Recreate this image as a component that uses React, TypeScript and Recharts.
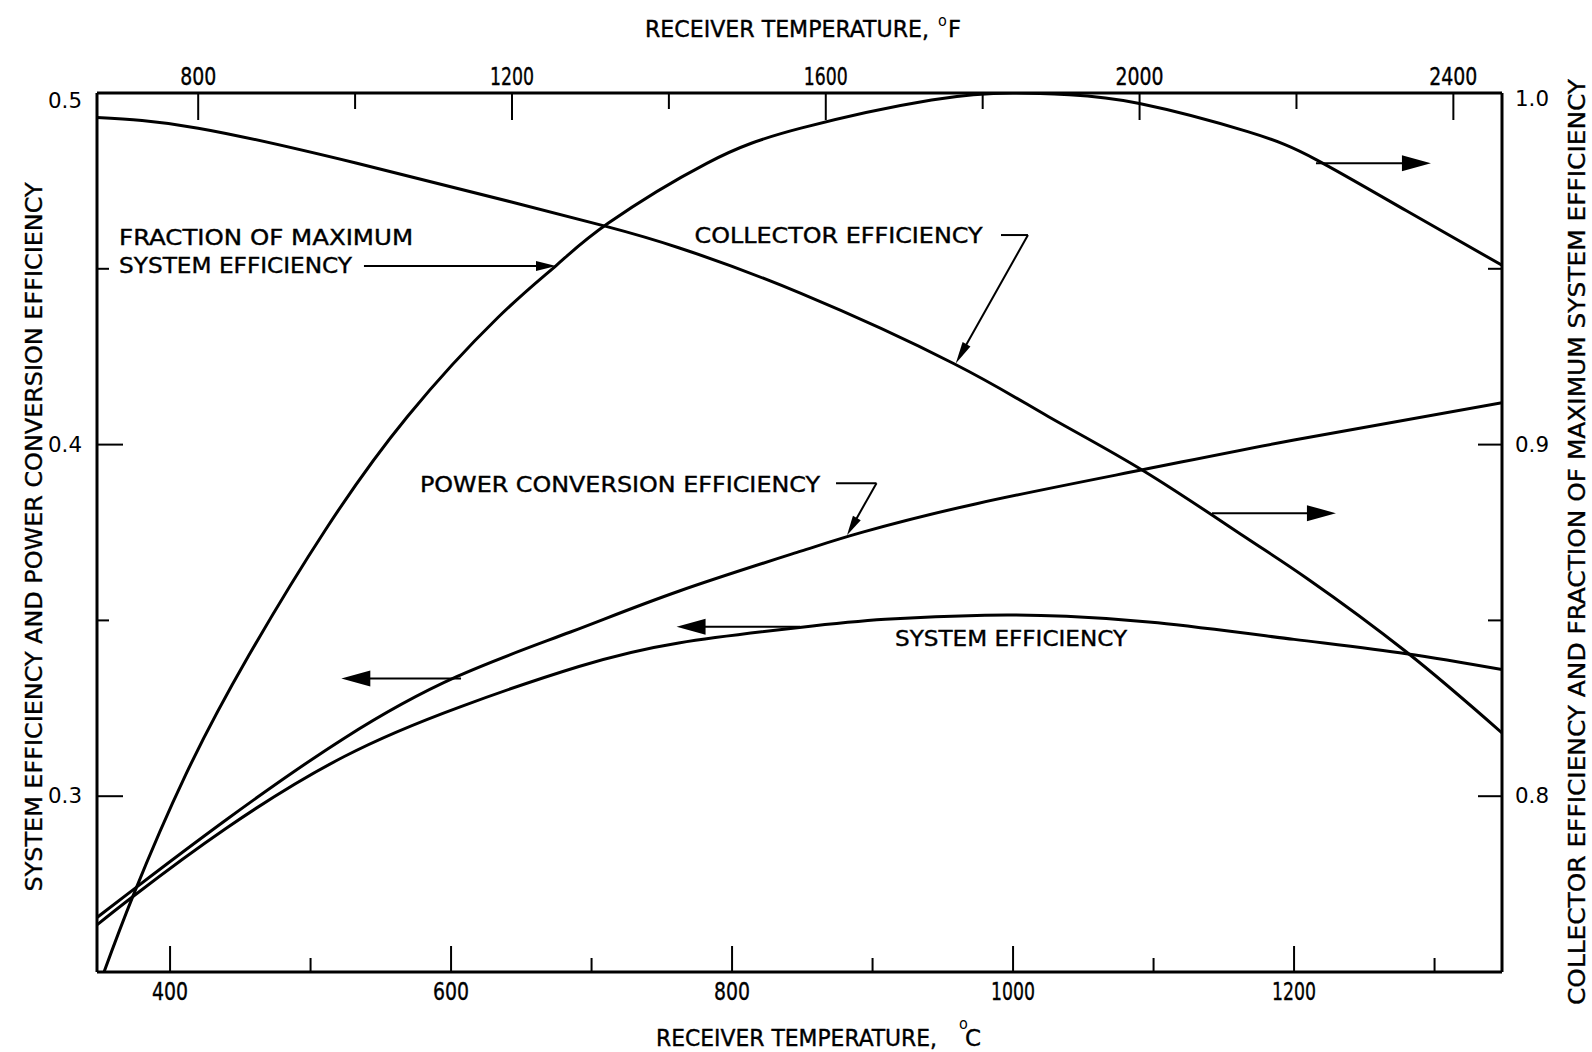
import React from 'react';
import { LineChart, Line, XAxis, YAxis } from 'recharts';

// Receiver temperature (°C) against efficiency, read as fractions.
const collectorEfficiency = [
  { t: 348, v: 0.993 }, { t: 420, v: 0.99 }, { t: 533, v: 0.98 }, { t: 643, v: 0.969 },
  { t: 711, v: 0.962 }, { t: 762, v: 0.956 }, { t: 849, v: 0.943 }, { t: 958, v: 0.923 },
  { t: 1025, v: 0.908 }, { t: 1093, v: 0.8925 }, { t: 1164, v: 0.874 }, { t: 1209, v: 0.862 },
  { t: 1280, v: 0.841 }, { t: 1348, v: 0.818 },
];

const fractionOfMaxSystem = [
  { t: 353, v: 0.75 }, { t: 374, v: 0.772 }, { t: 411, v: 0.806 }, { t: 456, v: 0.84 },
  { t: 511, v: 0.876 }, { t: 569, v: 0.908 }, { t: 633, v: 0.936 }, { t: 675, v: 0.951 },
  { t: 712, v: 0.963 }, { t: 782, v: 0.98 }, { t: 849, v: 0.99 }, { t: 942, v: 0.998 },
  { t: 1000, v: 1.0 }, { t: 1040, v: 0.9995 }, { t: 1090, v: 0.997 }, { t: 1167, v: 0.989 },
  { t: 1216, v: 0.981 }, { t: 1280, v: 0.9665 }, { t: 1348, v: 0.951 },
];

const powerConversionEfficiency = [
  { t: 348, v: 0.2655 }, { t: 375, v: 0.2738 }, { t: 440, v: 0.2933 }, { t: 524, v: 0.3165 },
  { t: 604, v: 0.334 }, { t: 685, v: 0.3467 }, { t: 762, v: 0.3583 }, { t: 849, v: 0.3697 },
  { t: 893, v: 0.3751 }, { t: 974, v: 0.3832 }, { t: 1093, v: 0.3929 }, { t: 1200, v: 0.4013 },
  { t: 1348, v: 0.4119 },
];

const systemEfficiency = [
  { t: 348, v: 0.2634 }, { t: 375, v: 0.2719 }, { t: 440, v: 0.2909 }, { t: 524, v: 0.3113 },
  { t: 607, v: 0.3255 }, { t: 691, v: 0.3369 }, { t: 762, v: 0.3436 }, { t: 848, v: 0.348 },
  { t: 909, v: 0.3503 }, { t: 980, v: 0.3515 }, { t: 1038, v: 0.3512 }, { t: 1103, v: 0.3493 },
  { t: 1200, v: 0.3446 }, { t: 1280, v: 0.3405 }, { t: 1348, v: 0.336 },
];

const celsiusTicks = [400, 500, 600, 700, 800, 900, 1000, 1100, 1200, 1300];
const celsiusLabels = [400, 600, 800, 1000, 1200];
const fahrenheitTicks = [800, 1000, 1200, 1400, 1600, 1800, 2000, 2200, 2400];
const fahrenheitLabels = [800, 1200, 1600, 2000, 2400];
const leftTicks = [0.3, 0.35, 0.4, 0.45, 0.5];
const leftLabels = [0.3, 0.4, 0.5];
const rightTicks = [0.8, 0.85, 0.9, 0.95, 1.0];
const rightLabels = [0.8, 0.9, 1.0];

// Layout
const WIDTH = 1592;
const HEIGHT = 1052;
const PLOT = { left: 97, right: 1502, top: 93, bottom: 972 };
const C_DOMAIN: [number, number] = [348, 1348];
const F_DOMAIN: [number, number] = [671, 2462];
const LEFT_DOMAIN: [number, number] = [0.25, 0.5];
const RIGHT_DOMAIN: [number, number] = [0.75, 1.0];

const INK = '#000';
const FONT = '"DejaVu Sans Condensed", "DejaVu Sans", sans-serif';
const NUM_FONT = '"DejaVu Sans", sans-serif';
const TEXT_WEIGHT = { stroke: INK, strokeWidth: 0.35 };

const toX = (t: number) =>
  PLOT.left + ((t - C_DOMAIN[0]) / (C_DOMAIN[1] - C_DOMAIN[0])) * (PLOT.right - PLOT.left);
const toY = (v: number) =>
  PLOT.bottom - ((v - LEFT_DOMAIN[0]) / (LEFT_DOMAIN[1] - LEFT_DOMAIN[0])) * (PLOT.bottom - PLOT.top);
const toXF = (f: number) =>
  PLOT.left + ((f - F_DOMAIN[0]) / (F_DOMAIN[1] - F_DOMAIN[0])) * (PLOT.right - PLOT.left);

const digitWidth = (s: string) => s.split('').reduce((w, ch) => w + (ch === '1' ? 8 : 12), 0);

const BottomTick = (props: any) => {
  const { x, y, payload } = props;
  const major = celsiusLabels.includes(payload.value);
  const label = String(payload.value);
  return (
    <g>
      <line x1={x} x2={x} y1={y} y2={y - (major ? 26 : 14)} stroke={INK} strokeWidth={2} />
      {major && (
        <text x={x} y={y + 28} textAnchor="middle" fontFamily={FONT} fontSize={24} fill={INK} {...TEXT_WEIGHT}
          textLength={digitWidth(label)} lengthAdjust="spacingAndGlyphs">{label}</text>
      )}
    </g>
  );
};

const LeftTick = (props: any) => {
  const { x, y, payload } = props;
  const major = leftLabels.includes(payload.value);
  const atTop = payload.value === LEFT_DOMAIN[1];
  return (
    <g>
      {!atTop && <line x1={x} x2={x + (major ? 26 : 12)} y1={y} y2={y} stroke={INK} strokeWidth={2} />}
      {major && (
        <text x={x - 15} y={y + (atTop ? 8 : 0)} textAnchor="end" dominantBaseline="central"
          fontFamily={NUM_FONT} fontSize={21} fill={INK} textLength={34}
          lengthAdjust="spacingAndGlyphs">{payload.value.toFixed(1)}</text>
      )}
    </g>
  );
};

const RightTick = (props: any) => {
  const { x, y, payload } = props;
  const major = rightLabels.includes(payload.value);
  const atTop = payload.value === RIGHT_DOMAIN[1];
  return (
    <g>
      {!atTop && <line x1={x} x2={x - (major ? 24 : 14)} y1={y} y2={y} stroke={INK} strokeWidth={2} />}
      {major && (
        <text x={x + 13} y={y + (atTop ? 6 : 0)} textAnchor="start" dominantBaseline="central"
          fontFamily={NUM_FONT} fontSize={21} fill={INK} textLength={34}
          lengthAdjust="spacingAndGlyphs">{payload.value.toFixed(1)}</text>
      )}
    </g>
  );
};

type Pt = [number, number];

function Arrow({ from, to, head = 28, half = 7.5, width = 2 }: { from: Pt; to: Pt; head?: number; half?: number; width?: number }) {
  const [x1, y1] = from;
  const [x2, y2] = to;
  const len = Math.hypot(x2 - x1, y2 - y1);
  const ux = (x2 - x1) / len;
  const uy = (y2 - y1) / len;
  const bx = x2 - ux * head;
  const by = y2 - uy * head;
  const px = -uy * half;
  const py = ux * half;
  return (
    <g>
      <line x1={x1} y1={y1} x2={bx + ux * 2} y2={by + uy * 2} stroke={INK} strokeWidth={width} />
      <polygon points={`${x2},${y2} ${bx + px},${by + py} ${bx - px},${by - py}`} fill={INK} />
    </g>
  );
}

function Label({ x, y, text, len, size = 22 }: { x: number; y: number; text: string; len: number; size?: number }) {
  // y is the vertical centre of the capitals
  return (
    <text x={x} y={y + size * 0.36} fontFamily={FONT} fontSize={size} fill={INK} {...TEXT_WEIGHT}
      textLength={len} lengthAdjust="spacingAndGlyphs">{text}</text>
  );
}

const P = (t: number, v: number): Pt => [toX(t), toY(v)];

// Secondary temperature scale in °F along the top edge of the frame.
function FahrenheitScale() {
  return (
    <g>
      {fahrenheitTicks.map((f) => {
        const x = toXF(f);
        const major = fahrenheitLabels.includes(f);
        const label = String(f);
        return (
          <g key={f}>
            <line x1={x} x2={x} y1={PLOT.top} y2={PLOT.top + (major ? 27 : 16)} stroke={INK} strokeWidth={2} />
            {major && (
              <text x={x} y={PLOT.top - 8} textAnchor="middle" fontFamily={FONT} fontSize={24} fill={INK}
                {...TEXT_WEIGHT} textLength={digitWidth(label)} lengthAdjust="spacingAndGlyphs">{label}</text>
            )}
          </g>
        );
      })}
    </g>
  );
}

function Annotations() {
  const fracA = P(538, 0.4508);
  const fracTip = P(674.7, 0.4508);
  const collDash0 = P(991.4, 0.4596);
  const collDash1 = P(1010.6, 0.4596);
  const collTip = P(959.2, 0.4231);
  const powDash0 = P(874.0, 0.389);
  const powDash1 = P(902.8, 0.389);
  const powTip = P(881.8, 0.3742);

  return (
    <svg width={WIDTH} height={HEIGHT} style={{ position: 'absolute', left: 0, top: 0, pointerEvents: 'none' }}>
      <FahrenheitScale />

      {/* axis titles */}
      <text x={645} y={37} fontFamily={FONT} fontSize={23} fill={INK} {...TEXT_WEIGHT} textLength={284}
        lengthAdjust="spacingAndGlyphs">RECEIVER TEMPERATURE,</text>
      <text x={938} y={26} fontFamily={FONT} fontSize={16} fill={INK}>o</text>
      <text x={948} y={37} fontFamily={FONT} fontSize={23} fill={INK} {...TEXT_WEIGHT} textLength={13}
        lengthAdjust="spacingAndGlyphs">F</text>

      <text x={656} y={1046} fontFamily={FONT} fontSize={23} fill={INK} {...TEXT_WEIGHT} textLength={281}
        lengthAdjust="spacingAndGlyphs">RECEIVER TEMPERATURE,</text>
      <text x={959} y={1029} fontFamily={FONT} fontSize={16} fill={INK}>o</text>
      <text x={965} y={1046} fontFamily={FONT} fontSize={23} fill={INK} {...TEXT_WEIGHT} textLength={16}
        lengthAdjust="spacingAndGlyphs">C</text>

      <text x={34} y={537} transform="rotate(-90 34 537)" textAnchor="middle" dominantBaseline="central"
        fontFamily={FONT} fontSize={23} fill={INK} {...TEXT_WEIGHT} textLength={709} lengthAdjust="spacingAndGlyphs">
        SYSTEM EFFICIENCY AND POWER CONVERSION EFFICIENCY
      </text>
      <text x={1577} y={542} transform="rotate(-90 1577 542)" textAnchor="middle" dominantBaseline="central"
        fontFamily={FONT} fontSize={23} fill={INK} {...TEXT_WEIGHT} textLength={926} lengthAdjust="spacingAndGlyphs">
        COLLECTOR EFFICIENCY AND FRACTION OF MAXIMUM SYSTEM EFFICIENCY
      </text>

      {/* curve labels */}
      <Label x={toX(363.7)} y={toY(0.459)} text="FRACTION OF MAXIMUM" len={294} />
      <Label x={toX(363.7)} y={toY(0.4511)} text="SYSTEM EFFICIENCY" len={233} />
      <Arrow from={fracA} to={fracTip} head={20} half={5} />

      <Label x={toX(773.3)} y={toY(0.4596)} text="COLLECTOR EFFICIENCY" len={288} />
      <line x1={collDash0[0]} y1={collDash0[1]} x2={collDash1[0]} y2={collDash1[1]} stroke={INK} strokeWidth={2} />
      <Arrow from={collDash1} to={collTip} head={22} half={4.5} />

      <Label x={toX(577.9)} y={toY(0.3888)} text="POWER CONVERSION EFFICIENCY" len={400} />
      <line x1={powDash0[0]} y1={powDash0[1]} x2={powDash1[0]} y2={powDash1[1]} stroke={INK} strokeWidth={2} />
      <Arrow from={powDash1} to={powTip} head={20} half={4.5} />

      <Label x={toX(916)} y={toY(0.345)} text="SYSTEM EFFICIENCY" len={232} />

      {/* which scale each curve belongs to */}
      <Arrow from={P(1215.6, 0.48)} to={P(1297.4, 0.48)} head={29} half={8} />
      <Arrow from={P(1141.6, 0.3805)} to={P(1229.8, 0.3805)} head={29} half={8} />
      <Arrow from={P(607.1, 0.3335)} to={P(521.9, 0.3335)} head={29} half={8} />
      <Arrow from={P(848.4, 0.3482)} to={P(760.5, 0.3482)} head={29} half={8} />
    </svg>
  );
}

export default function App() {
  const lineProps = {
    type: 'natural' as const,
    dataKey: 'v',
    stroke: INK,
    strokeWidth: 3,
    dot: false,
    activeDot: false,
    isAnimationActive: false,
    xAxisId: 'c',
  };
  return (
    <div style={{ position: 'absolute', left: 0, top: 0, width: WIDTH, height: HEIGHT, background: '#fff' }}>
      <LineChart width={WIDTH} height={HEIGHT} margin={{ top: 0, right: 0, bottom: 0, left: 0 }}>
        <XAxis xAxisId="c" type="number" dataKey="t" orientation="bottom" domain={C_DOMAIN}
          allowDataOverflow ticks={celsiusTicks} interval={0} height={HEIGHT - PLOT.bottom}
          axisLine={{ stroke: INK, strokeWidth: 3 }} tickLine={false} tickSize={0} tickMargin={0}
          tick={BottomTick} />
        <XAxis xAxisId="f" type="number" orientation="top" domain={F_DOMAIN}
          allowDataOverflow height={PLOT.top} axisLine={{ stroke: INK, strokeWidth: 3 }}
          tickLine={false} tick={false} />
        <YAxis yAxisId="l" type="number" orientation="left" domain={LEFT_DOMAIN} allowDataOverflow
          ticks={leftTicks} interval={0} width={PLOT.left}
          axisLine={{ stroke: INK, strokeWidth: 3 }} tickLine={false} tickSize={0} tickMargin={0}
          tick={LeftTick} />
        <YAxis yAxisId="r" type="number" orientation="right" domain={RIGHT_DOMAIN} allowDataOverflow
          ticks={rightTicks} interval={0} width={WIDTH - PLOT.right}
          axisLine={{ stroke: INK, strokeWidth: 3 }} tickLine={false} tickSize={0} tickMargin={0}
          tick={RightTick} />
        <Line {...lineProps} yAxisId="r" data={collectorEfficiency} name="Collector efficiency" />
        <Line {...lineProps} yAxisId="r" data={fractionOfMaxSystem} name="Fraction of maximum system efficiency" />
        <Line {...lineProps} yAxisId="l" data={powerConversionEfficiency} name="Power conversion efficiency" />
        <Line {...lineProps} yAxisId="l" data={systemEfficiency} name="System efficiency" />
      </LineChart>
      <Annotations />
    </div>
  );
}
